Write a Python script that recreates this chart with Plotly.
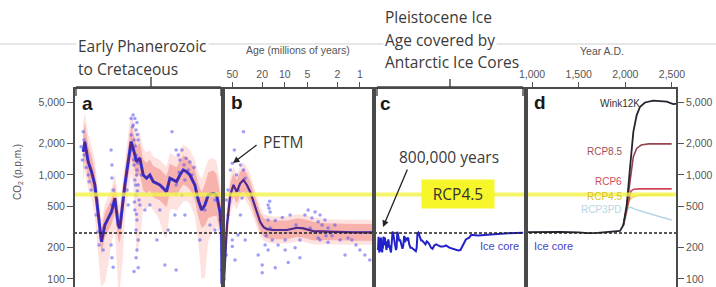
import numpy as np
import plotly.graph_objects as go

# ---------------- data ----------------
# Panel a: Early Phanerozoic to Cretaceous (age in Ma, CO2 in ppm)
a_age = [398, 394, 386, 378, 370, 362, 356, 354, 346, 338, 330, 322, 314, 310, 303, 298, 290, 283, 278, 270,
         262, 254, 246, 238, 230, 222, 214, 206, 198, 190, 182, 174, 166, 158, 150, 142, 130, 122, 114, 106,
         98, 86, 78, 70, 66, 65.2]
a_co2 = [1675, 2090, 1343, 1076, 802, 444, 285, 228, 330, 383, 444, 597, 330, 307, 553, 802, 1343, 2090, 1806, 1343,
         1448, 1000, 930, 1000, 862, 832, 802, 745, 691, 930, 895, 862, 1000, 1117, 1076, 1000, 802, 575, 461, 515,
         642, 667, 642, 444, 285, 90]
# half-widths of the uncertainty envelopes (log10 units)
a_w68 = [0.18, 0.18, 0.16, 0.15, 0.14, 0.13, 0.12, 0.12, 0.12, 0.12, 0.12, 0.14, 0.14, 0.14, 0.14, 0.14, 0.14, 0.15,
         0.15, 0.15, 0.15, 0.15, 0.15, 0.15, 0.15, 0.15, 0.15, 0.15, 0.15, 0.14, 0.14, 0.14, 0.14, 0.14, 0.14, 0.14,
         0.15, 0.16, 0.17, 0.20, 0.22, 0.22, 0.20, 0.18, 0.15, 0.10]
a_w95hi = [0.28, 0.28, 0.26, 0.25, 0.24, 0.22, 0.20, 0.20, 0.20, 0.22, 0.22, 0.24, 0.24, 0.22, 0.22, 0.24, 0.26, 0.28,
           0.28, 0.26, 0.26, 0.25, 0.25, 0.24, 0.24, 0.24, 0.24, 0.24, 0.24, 0.24, 0.24, 0.24, 0.24, 0.24, 0.24, 0.24,
           0.24, 0.26, 0.30, 0.34, 0.34, 0.34, 0.32, 0.30, 0.26, 0.15]
a_w95lo = [0.28, 0.28, 0.26, 0.26, 0.30, 0.45, 0.50, 0.43, 0.55, 0.45, 0.30, 0.30, 0.60, 0.58, 0.55, 0.30, 0.30, 0.30,
           0.35, 0.90, 0.80, 0.30, 0.30, 0.28, 0.28, 0.30, 0.35, 0.45, 0.45, 0.30, 0.28, 0.28, 0.30, 0.30, 0.28, 0.28,
           0.30, 0.40, 0.66, 0.70, 0.45, 0.35, 0.30, 0.30, 0.26, 0.15]
a_pts_age = [403, 400, 396, 391, 386, 384, 379, 396, 398,
             367, 362, 360, 355, 350, 348, 365,
             331, 329, 329, 326, 329, 331, 329, 326,
             283, 278, 274, 269, 278, 271, 283, 276, 266, 281, 271, 264, 276, 269, 274, 266, 271, 264, 274, 269,
             271, 266, 269, 271, 266, 276, 259, 262, 293, 290, 280, 273, 268, 277, 270, 272, 267, 275, 270, 268,
             185, 175, 170, 166, 161, 156, 151, 146, 142, 137, 168, 154, 132, 175, 161,
             175, 202, 221, 194, 118, 94, 82, 178, 154, 214, 238, 250, 106, 82, 70, 66, 66]
a_pts_co2 = [1870, 1390, 1556, 1180, 1000, 860, 718, 2170, 2600,
             412, 285, 212, 250, 190, 310, 575,
             1740, 1247, 935, 718, 515, 212, 160, 130,
             3500, 3770, 3500, 3200, 3030, 2710, 2430, 2170, 2170, 1740, 1556, 1450, 1247, 1117, 895, 802, 642, 575,
             461, 369, 296, 237, 190, 160, 128, 118, 1000, 515, 718, 515, 2900, 1900, 2450, 1400, 1000, 800, 1300,
             550, 420, 700,
             2600, 1740, 1556, 1393, 1740, 1247, 1450, 1117, 1330, 1000, 1060, 895, 1180, 802, 642,
             122, 136, 237, 296, 237, 330, 296, 412, 412, 461, 515, 461, 461, 575, 369, 190, 122]

# Panel b: Cenozoic (age in Ma, CO2 in ppm)
b_age = [64.5, 58.9, 53.2, 48.3, 43.6, 39.2, 35.5, 32.0, 28.9, 26.1, 23.5, 21.3, 19.2, 17.3, 14.1, 9.4, 6.9, 5.66,
         4.17, 2.77, 1.23, 0.67]
b_co2 = [95, 330, 642, 802, 691, 832, 895, 802, 691, 553, 444, 355, 315, 302, 296, 296, 311, 307, 289, 285, 281, 281]
b_w68 = [0.10, 0.12, 0.11, 0.11, 0.11, 0.11, 0.11, 0.11, 0.10, 0.10, 0.09, 0.09, 0.09, 0.09, 0.09, 0.09, 0.09, 0.09,
         0.09, 0.08, 0.08, 0.08]
b_w95 = [0.15, 0.20, 0.18, 0.18, 0.17, 0.17, 0.17, 0.17, 0.17, 0.16, 0.15, 0.14, 0.13, 0.13, 0.13, 0.13, 0.13, 0.13,
         0.13, 0.12, 0.12, 0.12]
b_pts_age = [50, 47, 53, 57, 44, 39, 35.5, 33.7, 41.7, 37, 60, 57, 50, 60, 64, 35.5, 50, 39, 46, 42, 64.8, 64.5, 64.3,
             16.7, 15.7, 16.7, 15.7, 17.7, 14.7, 18.3, 16.7, 15.9, 16.2,
             13.4, 10.8, 8.5, 7.1, 9.9, 20, 12.3, 9.9, 7.3, 22.6, 6.3, 33.7,
             5.4, 4.9, 4.35, 3.96, 3.6, 3.4, 3.2, 2.92, 2.66, 2.5, 2.35, 2.83, 3.4, 3.96, 4.6, 2.15, 2.66, 3.6,
             1.84, 1.44, 1.28, 1.13, 1.0, 0.86, 0.74, 9.0, 6.3, 13.4, 20, 1.58]
b_pts_co2 = [1300, 1740, 1117, 718, 1000, 1247, 1117, 930, 718, 600, 575, 412, 237, 170, 250, 2600, 205, 412, 152, 265,
             130, 200, 100,
             515, 440, 369, 310, 260, 237, 212, 190, 560, 480,
             365, 390, 412, 330, 237, 136, 212, 190, 200, 170, 237, 237,
             412, 461, 385, 440, 355, 412, 330, 369, 310, 280, 260, 260, 237, 280, 310, 330, 225, 248,
             237, 248, 237, 212, 190, 170, 152, 144, 160, 128, 115, 170]

# Panel c: Antarctic ice cores (age in thousands of years, CO2 in ppm)
c_ka = [800, 790, 780, 770, 760, 750, 740, 730, 720, 710, 700, 690, 680, 670, 660, 650, 640, 630, 620, 610, 600, 590,
        580, 570, 560, 550, 540, 530, 520, 510, 500, 490, 480, 470, 460, 450, 440, 430, 420, 410, 400, 390, 380, 370,
        360, 350, 340, 330, 320, 310, 300, 290, 280, 270, 260, 250, 240, 230, 220, 210, 200, 190, 180, 170, 160, 150,
        140, 135, 130, 125, 120, 115, 110, 105, 100, 95, 90, 85, 80, 75, 70, 65, 60, 55, 50, 45, 40, 35, 30, 25, 22,
        20, 18, 16, 14, 12, 11, 10, 8, 6, 4, 2, 1]
c_co2 = [190, 240, 255, 210, 185, 180, 220, 200, 185, 240, 250, 215, 190, 185, 180, 210, 195, 240, 255, 230, 210, 250,
         245, 215, 225, 200, 190, 230, 200, 215, 240, 230, 200, 210, 195, 185, 180, 210, 265, 285, 280, 250, 235, 220,
         205, 190, 200, 285, 270, 245, 230, 240, 225, 210, 195, 210, 260, 225, 245, 240, 250, 215, 200, 200, 195, 190,
         185, 200, 275, 280, 265, 245, 235, 235, 230, 225, 215, 230, 225, 215, 200, 195, 210, 215, 210, 205, 205, 210,
         200, 195, 190, 188, 190, 215, 240, 250, 265, 265, 262, 265, 270, 275, 278]

# Panel d: Year A.D. (CO2 in ppm)
d_year = [950, 1100, 1300, 1500, 1600, 1700, 1800, 1900, 1943, 1979, 2015, 2050, 2086, 2122, 2158, 2211, 2300, 2444,
          2514, 2554]
d_wink12k = [282, 284, 283, 281, 276, 278, 281, 286, 290, 330, 515, 1160, 2600, 3770, 4530, 4980, 5190, 5070, 4810,
             4850]
rcp85_year = [1979, 2015, 2050, 2086, 2122, 2170, 2250, 2497]
rcp85 = [330, 480, 862, 1500, 1800, 1940, 1990, 1990]
rcp6_year = [1979, 2015, 2040, 2060, 2090, 2150, 2497]
rcp6 = [330, 470, 620, 700, 730, 735, 735]
rcp45_year = [1979, 2015, 2040, 2070, 2150, 2497]
rcp45 = [330, 460, 560, 610, 640, 645]
rcp3_year = [1979, 2015, 2030, 2060, 2100, 2200, 2300, 2400, 2497]
rcp3 = [330, 430, 480, 490, 470, 440, 412, 390, 369]

preindustrial_co2 = 277
rcp45_level = 650

y_ticks = [100, 200, 500, 1000, 2000, 5000]
y_ticktext = ["100", "200", "500", "1,000", "2,000", "5,000"]
b_ticks = [50, 20, 10, 5, 2, 1]
b_ticktext = ["50", "20", "10", "5", "2", "1"]
d_ticks = [1000, 1500, 2000, 2500]
d_ticktext = ["1,000", "1,500", "2,000", "2,500"]

# ---------------- layout geometry ----------------
W, H = 716, 287
ML, MR, MT, MB = 74, 39, 88, 0
PW = W - ML - MR
PH = H - MT - MB


def px(x):
    return (x - ML) / PW


def py(y):
    return (H - MB - y) / PH


dom_a = [px(74), px(222)]
dom_b = [px(224), px(373)]
dom_c = [px(375), px(525)]
dom_d = [px(527), px(677)]

BLUE = "#3434d6"
DARK = "#5a1f72"
PTS = "rgba(80,80,240,0.55)"
BAND68 = "rgba(240,120,110,0.45)"
BAND95 = "rgba(250,190,186,0.45)"

fig = go.Figure()


def band(xv, yv, lo_w, hi_w, xa, color):
    yv = np.asarray(yv, float)
    hi = yv * 10 ** np.asarray(hi_w, float)
    lo = yv / 10 ** np.asarray(lo_w, float)
    fig.add_trace(go.Scatter(x=xv, y=hi, xaxis=xa, yaxis="y", mode="lines", line=dict(width=0),
                             hoverinfo="skip", showlegend=False))
    fig.add_trace(go.Scatter(x=xv, y=lo, xaxis=xa, yaxis="y", mode="lines", line=dict(width=0),
                             fill="tonexty", fillcolor=color, hoverinfo="skip", showlegend=False))


# panel a
band(a_age, a_co2, a_w95lo, a_w95hi, "x", BAND95)
band(a_age, a_co2, a_w68, a_w68, "x", BAND68)
fig.add_trace(go.Scatter(x=a_pts_age, y=a_pts_co2, xaxis="x", yaxis="y", mode="markers",
                         marker=dict(size=3.5, color=PTS), showlegend=False))
fig.add_trace(go.Scatter(x=a_age, y=a_co2, xaxis="x", yaxis="y", mode="lines",
                         line=dict(color=BLUE, width=3), showlegend=False))
fig.add_trace(go.Scatter(x=a_age, y=a_co2, xaxis="x", yaxis="y", mode="lines",
                         line=dict(color=DARK, width=1), showlegend=False))

# panel b
band(b_age, b_co2, b_w95, b_w95, "x2", BAND95)
band(b_age, b_co2, b_w68, b_w68, "x2", BAND68)
fig.add_trace(go.Scatter(x=b_pts_age, y=b_pts_co2, xaxis="x2", yaxis="y", mode="markers",
                         marker=dict(size=3.5, color=PTS), showlegend=False))
fig.add_trace(go.Scatter(x=b_age, y=b_co2, xaxis="x2", yaxis="y", mode="lines",
                         line=dict(color=BLUE, width=2.2), showlegend=False))
fig.add_trace(go.Scatter(x=b_age, y=b_co2, xaxis="x2", yaxis="y", mode="lines",
                         line=dict(color="#6a2458", width=1.2), showlegend=False))

# panel c
fig.add_trace(go.Scatter(x=c_ka, y=c_co2, xaxis="x3", yaxis="y", mode="lines",
                         line=dict(color="#2222c8", width=2), showlegend=False))

# panel d
fig.add_trace(go.Scatter(x=rcp3_year, y=rcp3, xaxis="x4", yaxis="y2", mode="lines",
                         line=dict(color="#b4d6e6", width=1.5), showlegend=False))
fig.add_trace(go.Scatter(x=rcp45_year, y=rcp45, xaxis="x4", yaxis="y2", mode="lines",
                         line=dict(color="#e6cf40", width=1.5), showlegend=False))
fig.add_trace(go.Scatter(x=rcp6_year, y=rcp6, xaxis="x4", yaxis="y2", mode="lines",
                         line=dict(color="#cf4656", width=1.6), showlegend=False))
fig.add_trace(go.Scatter(x=rcp85_year, y=rcp85, xaxis="x4", yaxis="y2", mode="lines",
                         line=dict(color="#954452", width=1.6), showlegend=False))
fig.add_trace(go.Scatter(x=d_year, y=d_wink12k, xaxis="x4", yaxis="y2", mode="lines",
                         line=dict(color="#252530", width=1.8), showlegend=False))

# reference levels across all panels
fig.add_trace(go.Scatter(x=[0, 1], y=[rcp45_level, rcp45_level], xaxis="x5", yaxis="y", mode="lines",
                         line=dict(color="rgba(242,242,70,0.8)", width=4), showlegend=False))
fig.add_trace(go.Scatter(x=[0, 1], y=[preindustrial_co2, preindustrial_co2], xaxis="x5", yaxis="y", mode="lines",
                         line=dict(color="#222", width=1.4, dash="3px,2px"), showlegend=False))

tickfont = dict(family="Liberation Sans, Arial, sans-serif", size=10.5, color="#555")
yrange = [1.923, 3.8365]

fig.update_layout(
    width=W, height=H, margin=dict(l=ML, r=MR, t=MT, b=MB, pad=0),
    paper_bgcolor="white", plot_bgcolor="rgba(0,0,0,0)", showlegend=False,
    font=dict(family="Liberation Sans, Arial, sans-serif", size=11, color="#555"),
    xaxis=dict(domain=dom_a, range=[420, 65], anchor="y", visible=False),
    xaxis2=dict(domain=dom_b, type="log", range=[np.log10(64.5), np.log10(0.67)], anchor="y", side="top",
                ticks="outside", ticklen=5, tickcolor="#555", tickvals=b_ticks, ticktext=b_ticktext,
                showgrid=False, zeroline=False, showline=False, tickfont=tickfont),
    xaxis3=dict(domain=dom_c, type="log", range=[np.log10(920), np.log10(0.92)], anchor="y", visible=False),
    xaxis4=dict(domain=dom_d, range=[946, 2554], anchor="y", side="top",
                ticks="outside", ticklen=5, tickcolor="#555", tickvals=d_ticks, ticktext=d_ticktext,
                showgrid=False, zeroline=False, showline=False, tickfont=tickfont),
    xaxis5=dict(domain=[0, 1], range=[0, 1], anchor="y", visible=False),
    yaxis=dict(type="log", range=yrange, domain=[0, 1], anchor="x", tickvals=y_ticks, ticktext=y_ticktext,
               ticks="outside", ticklen=6, tickcolor="#555", showgrid=False, zeroline=False, showline=False,
               tickfont=tickfont),
    yaxis2=dict(type="log", range=yrange, domain=[0, 1], anchor="x4", overlaying="y", side="right",
                tickvals=y_ticks, ticktext=y_ticktext, ticks="outside", ticklen=6, tickcolor="#555",
                showgrid=False, zeroline=False, showline=False, tickfont=tickfont),
)

shapes = []
# grey separator line at top
shapes.append(dict(type="line", xref="paper", yref="paper", x0=px(0), x1=px(716), y0=py(44), y1=py(44),
                   line=dict(color="#cfcfcf", width=1), layer="below"))
# panel frames
for xa in ["x", "x2", "x3", "x4"]:
    shapes.append(dict(type="rect", xref=f"{xa} domain", yref="paper", x0=0, x1=1, y0=-0.2, y1=1,
                       line=dict(color="#4a4a4a", width=2), layer="above"))
# brackets over panels a and c
for (x0, x1, xc, ytop) in [(76, 221, 151, 77), (377, 523, 450, 79)]:
    shapes.append(dict(type="line", xref="paper", yref="paper", x0=px(x0), x1=px(x1), y0=py(87), y1=py(87),
                       line=dict(color="#444", width=1.4)))
    shapes.append(dict(type="line", xref="paper", yref="paper", x0=px(xc), x1=px(xc), y0=py(87), y1=py(ytop),
                       line=dict(color="#444", width=1.4)))
    for xe in (x0, x1):
        shapes.append(dict(type="line", xref="paper", yref="paper", x0=px(xe), x1=px(xe), y0=py(87), y1=py(96),
                           line=dict(color="#444", width=1.4)))
fig.update_layout(shapes=shapes)

ann = []


def txt(x, y, s, size=11, color="#555", xa="left", family="Liberation Sans, Arial, sans-serif", bold=False,
        bg=None, angle=0, **kw):
    d = dict(x=px(x), y=py(y), xref="paper", yref="paper", text=(f"<b>{s}</b>" if bold else s), showarrow=False,
             xanchor=xa, yanchor="middle", textangle=angle,
             font=dict(family=family, size=size, color=color))
    if bg:
        d["bgcolor"] = bg
    d.update(kw)
    ann.append(d)


BIG = "Open Sans, Noto Sans, sans-serif"
txt(76, 46, "Early Phanerozoic", 15.5, "#3a3a3a", family=BIG, bg="white")
txt(76, 69, "to Cretaceous", 15.5, "#3a3a3a", family=BIG)
txt(383, 17, "Pleistocene Ice", 15.5, "#3a3a3a", family=BIG)
txt(383, 40, "Age covered by", 15.5, "#3a3a3a", family=BIG, bg="white")
txt(383, 62, "Antarctic Ice Cores", 15.5, "#3a3a3a", family=BIG)
txt(298, 50, "Age (millions of years)", 10.5, "#555", xa="center")
txt(602, 51, "Year A.D.", 10.5, "#555", xa="center")
txt(18, 172, "CO<sub>2</sub> (p.p.m.)", 10, "#555", xa="center", angle=-90)

for (x, y, s) in [(87, 103, "a"), (237, 102, "b"), (385, 103, "c"), (540, 102, "d")]:
    txt(x, y, s, 19, "#1a1a1a", xa="center", bold=True)

txt(261, 142, "PETM", 15.5, "#3a3a3a", family=BIG)
txt(397, 157, "800,000 years", 15.5, "#3a3a3a", family=BIG)
txt(458, 194, "RCP4.5", 15.5, "#333", xa="center", family=BIG, bg="#f6f62a", width=70, height=26, borderpad=1)

txt(478, 246, "Ice core", 11, "#4343c4")
txt(532, 246, "Ice core", 11, "#4343c4")
txt(642, 103, "Wink12K", 10, "#333", xa="right")
txt(624, 151, "RCP8.5", 10, "#a0505c", xa="right")
txt(624, 181, "RCP6", 10, "#d44c5c", xa="right")
txt(624, 196, "RCP4.5", 10, "#d8c030", xa="right")
txt(624, 209, "RCP3PD", 10, "#b4d6e6", xa="right")

# arrows
for (hx, hy, tx, ty) in [(233, 163, 258, 144), (383, 227, 408, 168)]:
    ann.append(dict(x=px(hx), y=py(hy), xref="paper", yref="paper", text="", showarrow=True,
                    ax=tx - hx, ay=ty - hy, axref="pixel", ayref="pixel", arrowhead=2, arrowsize=1,
                    arrowwidth=1.3, arrowcolor="#222", standoff=0))

fig.update_layout(annotations=ann)
fig.write_html("out.html", config={"displayModeBar": False, "staticPlot": True},
               post_script="document.body.style.margin='0px';document.body.style.overflow='hidden';")
